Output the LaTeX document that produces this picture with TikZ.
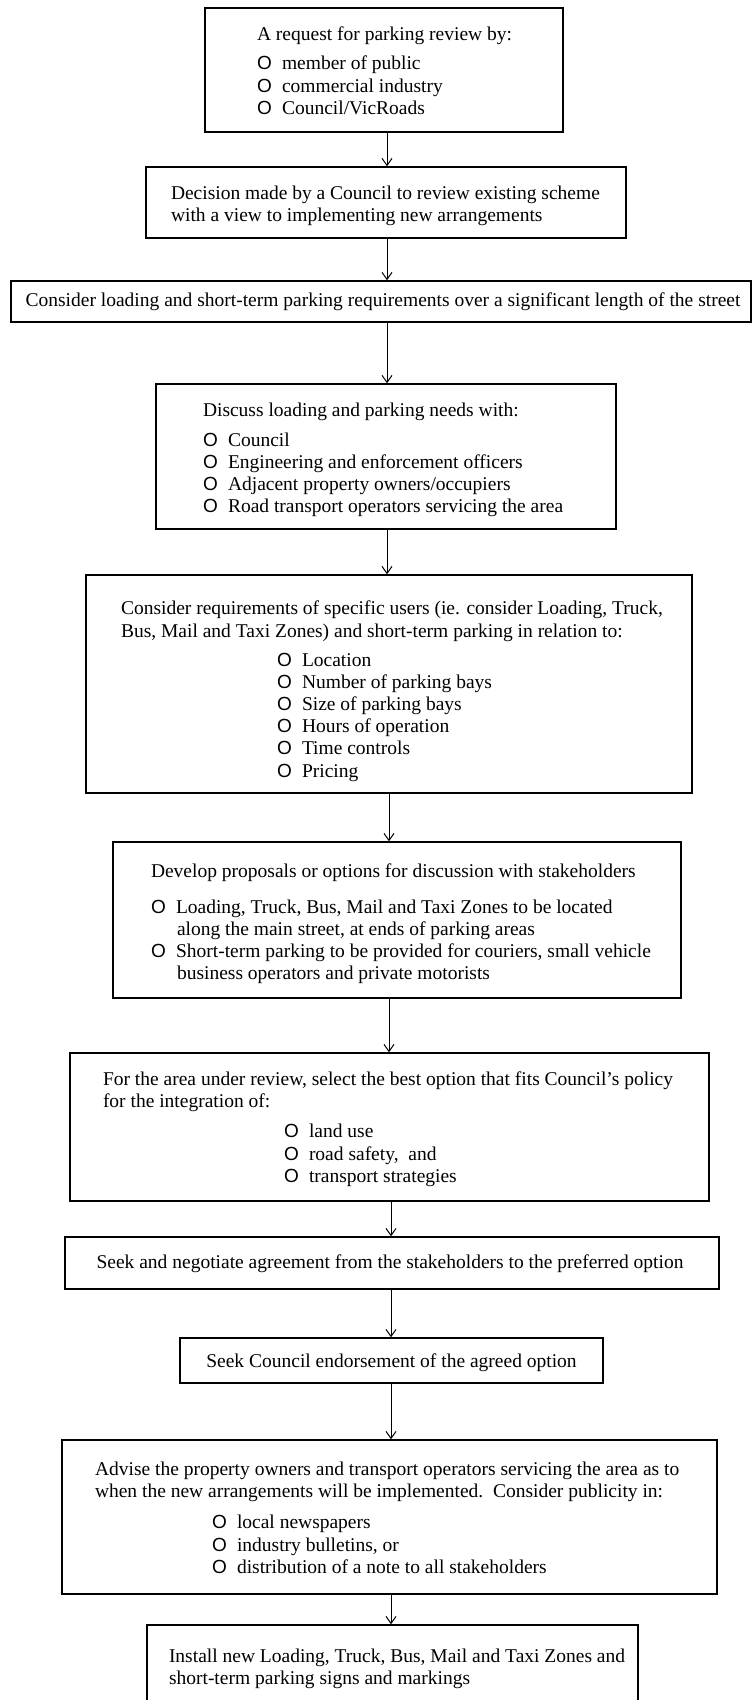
\documentclass[tikz,border=0pt]{standalone}
\usepackage{fontspec}
\setmainfont{Liberation Serif}
\newfontfamily\bulfont{Liberation Sans}
\usetikzlibrary{arrows.meta,fit}
\tikzset{
  x=1pt, y=-1pt,
  box/.style={draw=black, line width=1.5pt, inner sep=0pt, fill=none},
  txt/.style={inner sep=0pt, outer sep=0pt, font=\fontsize{19.5}{22.5}\selectfont},
  arr/.style={draw=black, line width=1pt, -{Straight Barb[length=7pt,width=10pt]}},
}
\newcommand\tline[4]{\node[txt,anchor=base west] (#1) at (#2,#3) {#4};}
\newcommand\ctrline[4]{\node[txt,anchor=base] (#1) at (#2,#3) {#4};}
\newcommand\bline[4]{\node[txt,anchor=base west] (#1) at (#2,#3) {\makebox[25pt][l]{\bulfont\fontsize{19}{20}\selectfont O}#4};}
\newcommand\mybox[5]{%
  \coordinate (#1nw) at (#2,#3);
  \coordinate (#1se) at (#4,#5);
  \node[box, fit=(#1nw)(#1se)] (#1) {};}
\begin{document}
\begin{tikzpicture}
\useasboundingbox[fill=white] (0,0) rectangle (753,1700);
\clip (0,0) rectangle (753,1700);

% boxes
\mybox{b1}{205}{8}{563}{132}
\mybox{b2}{146}{167}{626}{238}
\mybox{b3}{11}{281}{751}{322}
\mybox{b4}{156}{384}{616}{529}
\mybox{b5}{86}{575}{692}{793}
\mybox{b6}{113}{842}{681}{998}
\mybox{b7}{70}{1053}{709}{1201}
\mybox{b8}{65}{1237}{719}{1289}
\mybox{b9}{180}{1338}{603}{1383}
\mybox{b10}{62}{1440}{717}{1594}
\mybox{b11}{147}{1625}{638}{1730}

% box 1
\tline{t1a}{257}{40}{A request for parking review by:}
\bline{t1b}{257}{69}{member of public}
\bline{t1c}{257}{92}{commercial industry}
\bline{t1d}{257}{114}{Council/VicRoads}

% box 2
\tline{t2a}{171}{199}{Decision made by a Council to review existing scheme}
\tline{t2b}{171}{221}{with a view to implementing new arrangements}

% box 3
\ctrline{t3a}{383}{306}{Consider loading and short-term parking requirements over a significant length of the street}

% box 4
\tline{t4a}{203}{416}{Discuss loading and parking needs with:}
\bline{t4b}{203}{446}{Council}
\bline{t4c}{203}{468}{Engineering and enforcement officers}
\bline{t4d}{203}{490}{Adjacent property owners/occupiers}
\bline{t4e}{203}{512}{Road transport operators servicing the area}

% box 5
\tline{t5a}{121}{614}{Consider requirements of specific users (ie. consider Loading, Truck,}
\tline{t5b}{121}{637}{Bus, Mail and Taxi Zones) and short-term parking in relation to:}
\bline{t5c}{277}{666}{Location}
\bline{t5d}{277}{688}{Number of parking bays}
\bline{t5e}{277}{710}{Size of parking bays}
\bline{t5f}{277}{732}{Hours of operation}
\bline{t5g}{277}{754}{Time controls}
\bline{t5h}{277}{777}{Pricing}

% box 6
\tline{t6a}{151}{877}{Develop proposals or options for discussion with stakeholders}
\bline{t6b}{151}{913}{Loading, Truck, Bus, Mail and Taxi Zones to be located}
\tline{t6c}{177}{935}{along the main street, at ends of parking areas}
\bline{t6d}{151}{957}{Short-term parking to be provided for couriers, small vehicle}
\tline{t6e}{177}{979}{business operators and private motorists}

% box 7
\tline{t7a}{103}{1085}{For the area under review, select the best option that fits Council’s policy}
\tline{t7b}{103}{1107}{for the integration of:}
\bline{t7c}{284}{1137}{land use}
\bline{t7d}{284}{1160}{road safety,\ \ and}
\bline{t7e}{284}{1182}{transport strategies}

% box 8
\ctrline{t8a}{390}{1268}{Seek and negotiate agreement from the stakeholders to the preferred option}

% box 9
\ctrline{t9a}{391.5}{1367}{Seek Council endorsement of the agreed option}

% box 10
\tline{t10a}{95}{1475}{Advise the property owners and transport operators servicing the area as to}
\tline{t10b}{95}{1497}{when the new arrangements will be implemented.\ \ Consider publicity in:}
\bline{t10c}{212}{1528}{local newspapers}
\bline{t10d}{212}{1551}{industry bulletins, or}
\bline{t10e}{212}{1573}{distribution of a note to all stakeholders}

% box 11
\tline{t11a}{169}{1662}{Install new Loading, Truck, Bus, Mail and Taxi Zones and}
\tline{t11b}{169}{1684}{short-term parking signs and markings}

% connectors
\coordinate (xa) at (387,0);
\coordinate (xb) at (389,0);
\coordinate (xc) at (391,0);
\draw[arr] (b1.south -| xa) -- (b2.north -| xa);
\draw[arr] (b2.south -| xa) -- (b3.north -| xa);
\draw[arr] (b3.south -| xa) -- (b4.north -| xa);
\draw[arr] (b4.south -| xa) -- (b5.north -| xa);
\draw[arr] (b5.south -| xb) -- (b6.north -| xb);
\draw[arr] (b6.south -| xb) -- (b7.north -| xb);
\draw[arr] (b7.south -| xc) -- (b8.north -| xc);
\draw[arr] (b8.south -| xc) -- (b9.north -| xc);
\draw[arr] (b9.south -| xc) -- (b10.north -| xc);
\draw[arr] (b10.south -| xc) -- (b11.north -| xc);
\end{tikzpicture}
\end{document}
